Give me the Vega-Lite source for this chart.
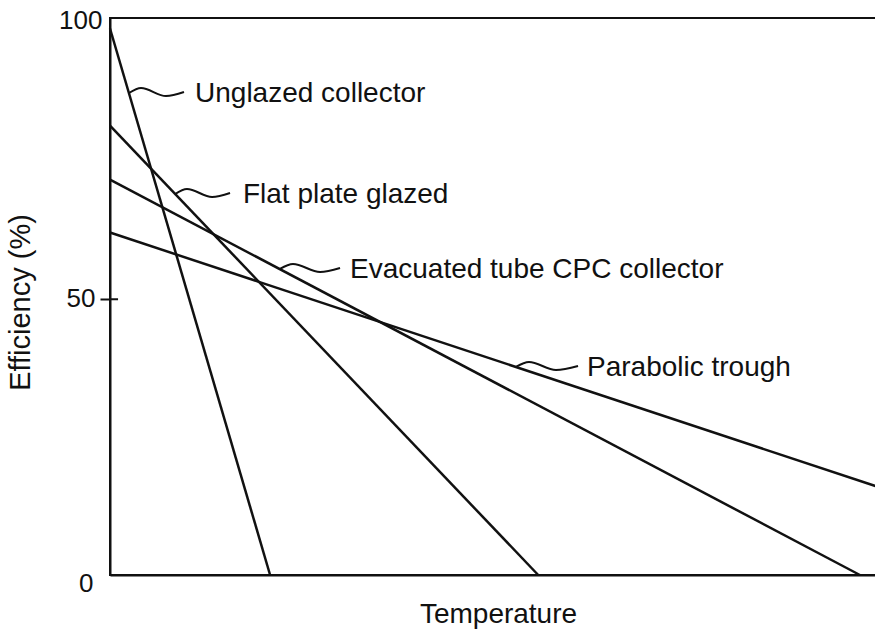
{
  "$schema": "https://vega.github.io/schema/vega-lite/v6.json",
  "width": 766,
  "height": 557,
  "autosize": {"type": "none"},
  "padding": {"left": 110, "top": 18, "right": 0, "bottom": 62},
  "background": "white",
  "config": {
    "view": {"stroke": "#111", "strokeWidth": 2},
    "font": "Liberation Sans",
    "text": {"font": "Liberation Sans"}
  },
  "datasets": {
    "lines": [
      {"series": "Unglazed collector", "x": 0, "y": 99.1},
      {"series": "Unglazed collector", "x": 20.9, "y": 0},
      {"series": "Flat plate glazed", "x": 0, "y": 81.5},
      {"series": "Flat plate glazed", "x": 55.9, "y": 0},
      {"series": "Evacuated tube CPC collector", "x": 0, "y": 71.7},
      {"series": "Evacuated tube CPC collector", "x": 97.9, "y": 0},
      {"series": "Parabolic trough", "x": 0, "y": 62.1},
      {"series": "Parabolic trough", "x": 100, "y": 16.1}
    ],
    "leaders": [
      {"series": "Unglazed collector", "x": 2.48, "y": 87.40},
      {"series": "Unglazed collector", "x": 4.05, "y": 88.30},
      {"series": "Unglazed collector", "x": 7.31, "y": 86.85},
      {"series": "Unglazed collector", "x": 9.66, "y": 87.58},
      {"series": "Flat plate glazed", "x": 8.49, "y": 69.08},
      {"series": "Flat plate glazed", "x": 10.05, "y": 69.99},
      {"series": "Flat plate glazed", "x": 13.32, "y": 68.54},
      {"series": "Flat plate glazed", "x": 15.67, "y": 69.27},
      {"series": "Evacuated tube CPC collector", "x": 22.19, "y": 55.49},
      {"series": "Evacuated tube CPC collector", "x": 23.89, "y": 56.39},
      {"series": "Evacuated tube CPC collector", "x": 27.42, "y": 54.94},
      {"series": "Evacuated tube CPC collector", "x": 30.03, "y": 55.67},
      {"series": "Parabolic trough", "x": 53.0, "y": 37.72},
      {"series": "Parabolic trough", "x": 54.70, "y": 38.62},
      {"series": "Parabolic trough", "x": 58.22, "y": 37.17},
      {"series": "Parabolic trough", "x": 61.10, "y": 37.90}
    ],
    "labels": [
      {"label": "Unglazed collector", "x": 11.10, "y": 87.3},
      {"label": "Flat plate glazed", "x": 17.36, "y": 68.98},
      {"label": "Evacuated tube CPC collector", "x": 31.33, "y": 55.38},
      {"label": "Parabolic trough", "x": 62.27, "y": 37.61}
    ],
    "innerticks": [
      {"x": 0, "x2": 1.05, "y": 50}
    ]
  },
  "encoding": {
    "x": {
      "field": "x",
      "type": "quantitative",
      "scale": {"domain": [0, 100], "nice": false, "zero": false},
      "axis": {
        "title": "Temperature",
        "labels": false,
        "ticks": false,
        "grid": false,
        "domainColor": "#111",
        "domainWidth": 2,
        "titleFont": "Liberation Sans",
        "titleFontSize": 28,
        "titleFontWeight": "normal",
        "titleColor": "#111",
        "titlePadding": 25,
        "titleX": 388
      }
    },
    "y": {
      "field": "y",
      "type": "quantitative",
      "scale": {"domain": [0, 101], "nice": false},
      "axis": {
        "title": "Efficiency (%)",
        "values": [0, 50, 100],
        "grid": false,
        "domainColor": "#111",
        "domainWidth": 2,
        "tickColor": "#111",
        "tickWidth": 2,
        "tickSize": 10,
        "tickOpacity": {"condition": {"test": "datum.value === 50", "value": 1}, "value": 0},
        "labelFont": "Liberation Sans",
        "labelFontSize": 26,
        "labelColor": "#111",
        "labelPadding": {"condition": [{"test": "datum.value === 100", "value": -2}, {"test": "datum.value === 0", "value": 7}], "value": 5},
        "labelOffset": {"condition": [{"test": "datum.value === 0", "value": 8}, {"test": "datum.value === 100", "value": -3}], "value": -1},
        "titleFont": "Liberation Sans",
        "titleFontSize": 29,
        "titleFontWeight": "normal",
        "titleColor": "#111",
        "titleX": -75,
        "titleY": 284
      }
    }
  },
  "layer": [
    {
      "data": {"name": "lines"},
      "mark": {"type": "line", "color": "#111", "strokeWidth": 2.5},
      "encoding": {"detail": {"field": "series"}}
    },
    {
      "data": {"name": "leaders"},
      "mark": {"type": "line", "color": "#111", "strokeWidth": 2, "interpolate": "monotone"},
      "encoding": {"detail": {"field": "series"}}
    },
    {
      "data": {"name": "labels"},
      "mark": {"type": "text", "align": "left", "baseline": "middle", "fontSize": 28, "color": "#111", "font": "Liberation Sans"},
      "encoding": {"text": {"field": "label"}}
    },
    {
      "data": {"name": "innerticks"},
      "mark": {"type": "rule", "color": "#111", "strokeWidth": 2},
      "encoding": {"x2": {"field": "x2"}}
    }
  ]
}
